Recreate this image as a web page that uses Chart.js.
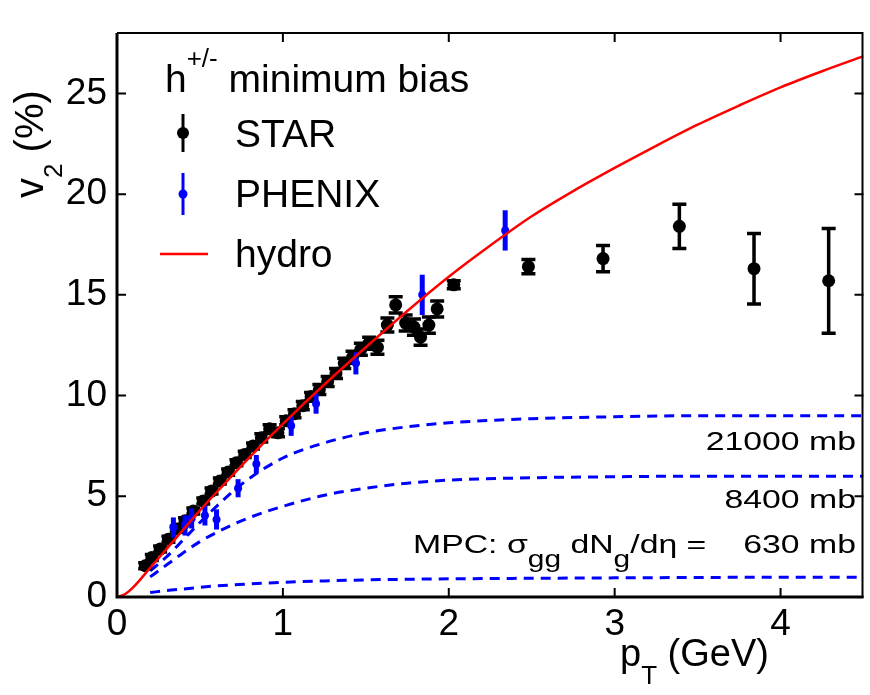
<!DOCTYPE html>
<html>
<head>
<meta charset="utf-8">
<script src="https://cdn.jsdelivr.net/npm/chart.js@4.4.1/dist/chart.umd.min.js"></script>
<style>
  html, body { margin: 0; padding: 0; background: #fff; }
</style>
</head>
<body>
<canvas id="v2" width="870" height="695"></canvas>
<script>
"use strict";

const FONT = '"Liberation Sans", Arial, Helvetica, sans-serif';
const RED = "#ff0000", BLUE = "#0000ff", BLACK = "#000000";

// hydro curve
const HYDRO_PT = [0, 0.05, 0.1, 0.2, 0.3, 0.4, 0.5, 0.6, 0.8, 1.0, 1.25, 1.5, 1.75, 2.0, 2.25, 2.5, 2.75, 3.0, 3.25, 3.5, 3.75, 4.0, 4.25, 4.5];
const HYDRO_V2 = [0, 0.15, 0.5, 1.45, 2.4, 3.35, 4.3, 5.2, 6.95, 8.6, 10.55, 12.4, 14.2, 15.9, 17.45, 18.9, 20.15, 21.3, 22.4, 23.45, 24.4, 25.3, 26.1, 26.85];

// MPC parton cascade curves
const MPC_PT = [0.2, 0.3, 0.4, 0.5, 0.6, 0.7, 0.8, 1.0, 1.25, 1.5, 1.75, 2.0, 2.5, 3.0, 3.5, 4.0, 4.5];
const MPC_21000 = [1.3, 2.0, 2.85, 3.7, 4.5, 5.25, 5.9, 6.9, 7.65, 8.15, 8.45, 8.65, 8.85, 8.95, 9.0, 9.0, 9.0];
const MPC_8400 = [1.0, 1.6, 2.2, 2.75, 3.2, 3.6, 3.95, 4.5, 5.05, 5.4, 5.65, 5.8, 5.92, 5.97, 6.0, 6.0, 6.0];
const MPC_630 = [0.22, 0.32, 0.4, 0.48, 0.55, 0.6, 0.65, 0.73, 0.8, 0.85, 0.88, 0.9, 0.93, 0.95, 0.97, 0.98, 0.98];
const MPC_LABELS = ["21000 mb", "8400 mb", "630 mb"];

// STAR h+/- minimum bias
const STAR_PT = [0.17, 0.21, 0.26, 0.31, 0.36, 0.41, 0.46, 0.52, 0.57, 0.62, 0.67, 0.72, 0.77, 0.82, 0.87, 0.92, 0.97, 1.02, 1.07, 1.12, 1.17, 1.22, 1.27, 1.32, 1.37, 1.42, 1.47, 1.52, 1.57, 1.63, 1.68, 1.74, 1.79, 1.83, 1.88, 1.93, 2.03, 2.48, 2.93, 3.39, 3.84, 4.29];
const STAR_V2 = [1.55, 1.96, 2.38, 2.87, 3.37, 3.78, 4.27, 4.77, 5.26, 5.76, 6.2, 6.67, 7.08, 7.5, 7.9, 8.35, 8.15, 8.75, 9.1, 9.5, 9.95, 10.3, 10.7, 11.1, 11.6, 11.9, 12.3, 12.6, 12.4, 13.5, 14.5, 13.6, 13.4, 12.9, 13.5, 14.3, 15.5, 16.4, 16.8, 18.4, 16.3, 15.7];
const STAR_ERR = [0.15, 0.15, 0.15, 0.15, 0.15, 0.15, 0.15, 0.15, 0.15, 0.15, 0.15, 0.15, 0.15, 0.15, 0.2, 0.2, 0.2, 0.2, 0.2, 0.2, 0.2, 0.25, 0.25, 0.25, 0.25, 0.3, 0.3, 0.3, 0.35, 0.35, 0.4, 0.4, 0.4, 0.4, 0.4, 0.4, 0.2, 0.35, 0.65, 1.1, 1.75, 2.6];

// PHENIX
const PHENIX_PT = [0.34, 0.41, 0.45, 0.53, 0.6, 0.73, 0.84, 1.05, 1.2, 1.44, 1.84, 2.34];
const PHENIX_V2 = [3.45, 3.55, 3.9, 4.05, 3.85, 5.4, 6.6, 8.5, 9.6, 11.6, 15.0, 18.2];
const PHENIX_ERR = [0.5, 0.5, 0.5, 0.5, 0.5, 0.45, 0.45, 0.5, 0.5, 0.55, 1.0, 1.0];

const pts = (xs, ys) => xs.map((x, i) => ({ x, y: ys[i] }));

function mpcLine(label, ys) {
  return {
    label, type: "scatter", showLine: true, data: pts(MPC_PT, ys),
    borderColor: BLUE, borderWidth: 3, borderDash: [10, 7], pointRadius: 0,
    cubicInterpolationMode: "monotone", order: 3,
  };
}

// draw text as a list of [text, size, dy] runs, optionally stretched horizontally
function runs(ctx, x, y, parts, sx) {
  ctx.save();
  ctx.translate(x, y);
  ctx.scale(sx || 1, 1);
  ctx.textBaseline = "alphabetic";
  ctx.textAlign = "left";
  let cx = 0;
  for (const [t, size, dy] of parts) {
    ctx.font = size + "px " + FONT;
    ctx.fillText(t, cx, dy);
    cx += ctx.measureText(t).width;
  }
  ctx.restore();
}

function rightText(ctx, xr, y, text, size, sx) {
  ctx.save();
  ctx.font = size + "px " + FONT;
  const w = ctx.measureText(text).width * sx;
  ctx.translate(xr - w, y);
  ctx.scale(sx, 1);
  ctx.fillText(text, 0, 0);
  ctx.restore();
}

const errorBars = {
  id: "errorBars",
  beforeDatasetDraw(chart, args) {
    const ds = chart.data.datasets[args.index];
    if (!ds.errors) return;
    const ys = chart.scales.y, ctx = chart.ctx;
    ctx.save();
    ctx.strokeStyle = ds.backgroundColor;
    ctx.lineWidth = ds.barWidth;
    args.meta.data.forEach((p, i) => {
      const v = ds.data[i].y, e = ds.errors[i];
      const y0 = ys.getPixelForValue(v - e), y1 = ys.getPixelForValue(v + e);
      ctx.beginPath();
      ctx.moveTo(p.x, y0); ctx.lineTo(p.x, y1);
      if (ds.cap) {
        ctx.moveTo(p.x - ds.cap, y0); ctx.lineTo(p.x + ds.cap, y0);
        ctx.moveTo(p.x - ds.cap, y1); ctx.lineTo(p.x + ds.cap, y1);
      }
      ctx.stroke();
    });
    ctx.restore();
  },
};

const frame = {
  id: "frame",
  afterDraw(chart) {
    const { ctx, chartArea: a, scales: { x, y } } = chart;
    ctx.save();
    ctx.strokeStyle = BLACK;
    // box
    ctx.lineWidth = 2;
    ctx.beginPath();
    ctx.moveTo(a.left, a.top); ctx.lineTo(a.right - 1, a.top); ctx.lineTo(a.right - 1, a.bottom);
    ctx.stroke();
    ctx.lineWidth = 3;
    ctx.beginPath();
    ctx.moveTo(a.left, a.top); ctx.lineTo(a.left, a.bottom); ctx.lineTo(a.right, a.bottom);
    ctx.stroke();
    // inward ticks on all four sides
    const TL = 9;
    ctx.lineWidth = 2;
    ctx.beginPath();
    x.ticks.forEach((t) => {
      const px = x.getPixelForValue(t.value);
      ctx.moveTo(px, a.bottom); ctx.lineTo(px, a.bottom - TL);
      ctx.moveTo(px, a.top); ctx.lineTo(px, a.top + TL);
    });
    y.ticks.forEach((t) => {
      const py = y.getPixelForValue(t.value);
      ctx.moveTo(a.left, py); ctx.lineTo(a.left + TL, py);
      ctx.moveTo(a.right, py); ctx.lineTo(a.right - TL, py);
    });
    ctx.stroke();

    ctx.fillStyle = BLACK;
    // axis titles
    ctx.save();
    ctx.translate(43, 198);
    ctx.rotate(-Math.PI / 2);
    runs(ctx, 0, 0, [["v", 40, 0], ["2", 26, 19], [" (%)", 40, 0]]);
    ctx.restore();
    runs(ctx, 620, 666, [["p", 38, 0], ["T", 26, 18], [" (GeV)", 38, 0]]);

    // legend
    runs(ctx, 165, 92, [["h", 39, 0], ["+/-", 26, -25], [" minimum bias", 39, 0]]);
    ctx.lineWidth = 3;
    ctx.beginPath(); ctx.moveTo(183, 114); ctx.lineTo(183, 152); ctx.stroke();
    ctx.beginPath(); ctx.arc(183, 133, 6, 0, Math.PI * 2); ctx.fill();
    runs(ctx, 235, 147, [["STAR", 39, 0]]);
    ctx.strokeStyle = BLUE; ctx.fillStyle = BLUE;
    ctx.beginPath(); ctx.moveTo(183, 173); ctx.lineTo(183, 215); ctx.stroke();
    ctx.beginPath(); ctx.arc(183, 194, 4.5, 0, Math.PI * 2); ctx.fill();
    ctx.fillStyle = BLACK;
    runs(ctx, 235, 207, [["PHENIX", 39, 0]]);
    ctx.strokeStyle = RED; ctx.lineWidth = 2.5;
    ctx.beginPath(); ctx.moveTo(160, 254); ctx.lineTo(208, 254); ctx.stroke();
    runs(ctx, 235, 267, [["hydro", 39, 0]]);

    // MPC labels
    const SX = 1.3;
    rightText(ctx, 856, 450, MPC_LABELS[0], 26, SX);
    rightText(ctx, 856, 508, MPC_LABELS[1], 26, SX);
    rightText(ctx, 856, 553, MPC_LABELS[2], 26, SX);
    runs(ctx, 413, 553, [["MPC: σ", 26, 0], ["gg", 23, 14], [" dN", 26, 0], ["g", 23, 14], ["/dη =", 26, 0]], SX);
    ctx.restore();
  },
};

new Chart(document.getElementById("v2"), {
  type: "scatter",
  data: {
    datasets: [
      {
        label: "hydro", type: "scatter", showLine: true, data: pts(HYDRO_PT, HYDRO_V2),
        borderColor: RED, borderWidth: 2.5, pointRadius: 0,
        cubicInterpolationMode: "monotone", order: 0,
      },
      {
        label: "PHENIX", data: pts(PHENIX_PT, PHENIX_V2), errors: PHENIX_ERR,
        backgroundColor: BLUE, borderWidth: 0, pointRadius: 4, barWidth: 5, cap: 0, order: 1,
      },
      {
        label: "STAR", data: pts(STAR_PT, STAR_V2), errors: STAR_ERR,
        backgroundColor: BLACK, borderWidth: 0, pointRadius: 6.5, barWidth: 3.5, cap: 7, order: 2,
      },
      mpcLine("21000 mb", MPC_21000),
      mpcLine("8400 mb", MPC_8400),
      mpcLine("630 mb", MPC_630),
    ],
  },
  options: {
    responsive: false,
    animation: false,
    devicePixelRatio: 1,
    layout: { padding: { left: 0, right: 1, top: 33, bottom: 0 } },
    plugins: { legend: { display: false }, tooltip: { enabled: false } },
    scales: {
      x: {
        type: "linear", min: 0, max: 4.5,
        afterFit: (s) => { s.height = 98; },
        grid: { display: false, drawTicks: false },
        border: { display: false },
        ticks: { stepSize: 1, includeBounds: false, padding: 6, maxRotation: 0, color: BLACK, font: { family: FONT, size: 37 } },
      },
      y: {
        type: "linear", min: 0, max: 28,
        afterFit: (s) => { s.width = 117; },
        grid: { display: false, drawTicks: false },
        border: { display: false },
        ticks: { stepSize: 5, includeBounds: false, padding: 10, color: BLACK, font: { family: FONT, size: 37 } },
      },
    },
  },
  plugins: [errorBars, frame],
});
</script>
</body>
</html>
